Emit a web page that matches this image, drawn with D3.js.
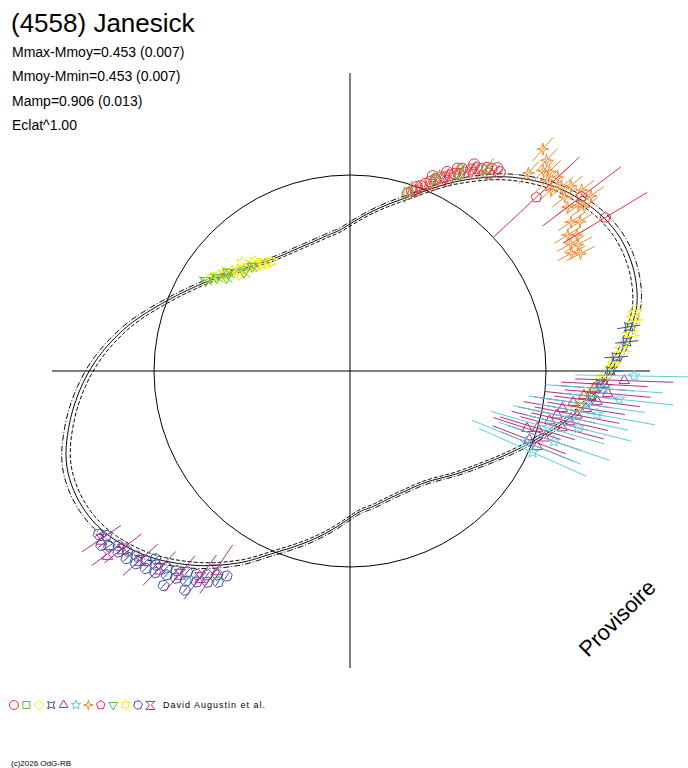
<!DOCTYPE html>
<meta charset="utf-8">
<style>
  body { margin: 0; background: #fff; }
  text { font-family: "Liberation Sans", Arial, sans-serif; }
</style>
<body></body>
<script src="https://cdn.jsdelivr.net/npm/d3@7"></script>
<script>

// model curve: angle (deg, counterclockwise from +x) -> relative radius (circle = 1)
const curveAng = [0, 8, 14, 22, 30, 40, 50, 60, 72, 90, 100, 112, 125, 137, 148, 159, 170, 180, 191, 200, 210, 220, 230, 240, 250, 270, 280, 292, 305, 318, 328, 339, 350];
const curveVal = [1.33, 1.44, 1.51, 1.54, 1.52, 1.43, 1.29, 1.12, 0.93, 0.75, 0.70, 0.68, 0.695, 0.76, 0.86, 1.0, 1.18, 1.33, 1.46, 1.53, 1.52, 1.43, 1.29, 1.13, 0.97, 0.75, 0.70, 0.675, 0.69, 0.77, 0.86, 1.0, 1.18];

// observations: [angle, value, error]
const redCircles = [[72,0.95,0.02],[71,0.97,0.02],[70,1.0,0.02],[69,1.01,0.02],[68,1.03,0.02],[67,1.05,0.02],[66,1.07,0.02],[66,1.04,0.02],[65,1.09,0.02],[64,1.1,0.02],[63,1.12,0.02],[63,1.09,0.02],[62,1.14,0.02],[61,1.15,0.02],[61,1.18,0.02],[60,1.17,0.02],[59,1.2,0.02],[58,1.22,0.02],[58,1.19,0.02],[57,1.23,0.02],[56,1.25,0.02],[55,1.26,0.02],[55,1.23,0.02],[54,1.28,0.02],[53,1.27,0.02],[64,1.13,0.02],[67,1.08,0.02],[62,1.17,0.02],[59,1.23,0.02],[70,0.98,0.02]];
const greenSquares = [[72,0.96,0.06],[66,1.07,0.06],[61,1.15,0.06],[56,1.24,0.07]];
const yellowDiamonds = [[12,1.49,0.04],[11,1.47,0.04],[10,1.48,0.04],[9,1.45,0.04],[8,1.44,0.04],[7,1.45,0.04],[6,1.41,0.04],[5,1.39,0.04],[4,1.4,0.04],[3,1.36,0.04],[2,1.35,0.04],[1,1.34,0.04],[0,1.31,0.04],[-1,1.3,0.04],[-2,1.28,0.04],[-3,1.27,0.04],[-4,1.25,0.04],[-5,1.24,0.04],[-6,1.22,0.04],[-7,1.2,0.04],[-8,1.19,0.04],[-9,1.17,0.04]];
const blueConcave = [[9,1.44,0.06],[6,1.42,0.06],[3,1.36,0.06],[0,1.33,0.06],[-3,1.28,0.06],[-6,1.24,0.06]];
const magentaTriangles = [[-2,1.4,0.25],[-3,1.3,0.22],[-4,1.25,0.2],[-5,1.32,0.22],[-6,1.2,0.2],[-7,1.27,0.22],[-8,1.15,0.2],[-9,1.22,0.2],[-10,1.1,0.2],[-11,1.18,0.22],[-12,1.08,0.2],[-13,1.15,0.2],[-14,1.05,0.2],[-15,1.12,0.22],[-17,1.0,0.2],[-18,0.95,0.18],[-19,1.05,0.2],[-21,0.98,0.2],[-22,1.03,0.2]];
const cyanStars = [[-1,1.45,0.3],[-4,1.3,0.3],[-6,1.38,0.28],[-8,1.22,0.3],[-10,1.28,0.3],[-12,1.15,0.3],[-14,1.2,0.28],[-16,1.05,0.3],[-19,1.1,0.3],[-22,0.97,0.3],[-24,1.02,0.3]];
const orangeStars = [[49,1.5,0.08],[47,1.47,0.08],[46,1.42,0.08],[45,1.44,0.08],[44,1.4,0.08],[43,1.45,0.08],[42,1.38,0.08],[41,1.43,0.08],[40,1.47,0.08],[39,1.41,0.08],[38,1.5,0.08],[37,1.39,0.08],[36,1.44,0.08],[35,1.46,0.08],[34,1.36,0.08],[33,1.4,0.08],[32,1.31,0.08],[31,1.35,0.08],[30,1.3,0.08],[29,1.33,0.08],[28,1.28,0.08],[48,1.36,0.08],[36,1.52,0.08],[27,1.32,0.08]];
const redPentagons = [[43,1.30,0.3],[37,1.48,0.25],[31,1.52,0.25]];
const greenInvTri = [[137,0.74,0.04],[141,0.8,0.04],[145,0.83,0.04],[148,0.87,0.04],[143,0.79,0.04],[133,0.73,0.04]];
const yellowHexagrams = [[126,0.69,0.03],[128,0.7,0.03],[130,0.71,0.03],[132,0.72,0.03],[134,0.74,0.03],[136,0.75,0.03],[138,0.77,0.03],[140,0.79,0.03],[142,0.81,0.03],[144,0.83,0.03],[146,0.85,0.03],[131,0.74,0.03],[139,0.75,0.03],[135,0.78,0.03]];
const blueHexagons = [[213,1.53,0.02],[214,1.5,0.02],[215,1.55,0.02],[216,1.52,0.02],[217,1.48,0.02],[218,1.5,0.02],[219,1.46,0.02],[220,1.49,0.02],[221,1.44,0.02],[222,1.47,0.02],[223,1.42,0.02],[224,1.45,0.02],[225,1.4,0.02],[226,1.43,0.02],[227,1.37,0.02],[228,1.4,0.02],[229,1.35,0.02],[230,1.38,0.02],[231,1.32,0.02],[232,1.36,0.02],[233,1.3,0.02],[234,1.33,0.02],[235,1.27,0.02],[236,1.3,0.02],[237,1.24,0.02],[238,1.27,0.02],[239,1.22,0.02],[229,1.45,0.02],[224,1.38,0.02],[233,1.4,0.02]];
const magentaTrefoils = [[214,1.53,0.12],[218,1.47,0.12],[222,1.44,0.12],[226,1.4,0.12],[230,1.35,0.12],[234,1.3,0.14],[236,1.22,0.15],[217,1.55,0.1]];

const infoLines = ["Mmax-Mmoy=0.453 (0.007)", "Mmoy-Mmin=0.453 (0.007)", "Mamp=0.906 (0.013)", "Eclat^1.00"];

const W = 688, H = 768, cx = 350, cy = 371;
const r = d3.scaleLinear().domain([0, 1]).range([0, 196]);
const rad = d => d * Math.PI / 180;
const px = (a, v) => cx + r(v) * Math.cos(rad(a));
const py = (a, v) => cy - r(v) * Math.sin(rad(a));

const svg = d3.select("body").append("svg").attr("width", W).attr("height", H);

// axes and unit circle
svg.append("line").attr("x1", 52).attr("x2", 650).attr("y1", cy).attr("y2", cy).attr("stroke", "#000");
svg.append("line").attr("x1", cx).attr("x2", cx).attr("y1", 73).attr("y2", 668).attr("stroke", "#000");
svg.append("circle").attr("cx", cx).attr("cy", cy).attr("r", r(1)).attr("fill", "none").attr("stroke", "#000");

// smooth the curve in (angle, value) space, periodic
function polarSpline(k) {
  const n = curveAng.length, out = [];
  const A = i => curveAng[(i + n) % n] + 360 * Math.floor(i / n);
  const V = i => curveVal[(i + n) % n] * k;
  const cr = (p0, p1, p2, p3, t) => 0.5 * (2 * p1 + (-p0 + p2) * t + (2 * p0 - 5 * p1 + 4 * p2 - p3) * t * t + (-p0 + 3 * p1 - 3 * p2 + p3) * t * t * t);
  for (let i = 0; i < n; i++) {
    for (let t = 0; t < 1; t += 0.05) {
      const a = cr(A(i - 1), A(i), A(i + 1), A(i + 2), t);
      const v = cr(V(i - 1), V(i), V(i + 1), V(i + 2), t);
      out.push([px(a, v), py(a, v)]);
    }
  }
  return out;
}
const line = d3.line().curve(d3.curveLinearClosed);
[[0.985, "4,2"], [1, null], [1.015, "6,2,1,2"]].forEach(([k, dash]) => {
  svg.append("path").attr("d", line(polarSpline(k))).attr("fill", "none")
    .attr("stroke", "#000").attr("stroke-width", 1).attr("stroke-dasharray", dash);
});

// shapes
function poly(n, ro, ri, rot) {
  const p = [];
  const m = ri ? n * 2 : n;
  for (let i = 0; i < m; i++) {
    const rr = ri && i % 2 ? ri : ro;
    const a = rot + i * 2 * Math.PI / m;
    p.push([rr * Math.sin(a), -rr * Math.cos(a)]);
  }
  return "M" + p.map(q => q.map(v => v.toFixed(2)).join(",")).join("L") + "Z";
}
const shapes = {
  circle: s => `M${s},0A${s},${s} 0 1 1 ${-s},0A${s},${s} 0 1 1 ${s},0Z`,
  square: s => poly(4, s * 1.1, 0, Math.PI / 4),
  diamond: s => poly(4, s * 1.1, 0, 0),
  concave: s => poly(4, s * 1.1, s * 0.5, Math.PI / 4),
  triangle: s => poly(3, s * 1.1, 0, 0),
  star5: s => poly(5, s * 1.1, s * 0.45, 0),
  star4: s => poly(4, s * 1.1, s * 0.3, 0),
  pentagon: s => poly(5, s, 0, 0),
  invtri: s => poly(3, s * 1.1, 0, Math.PI),
  hexagram: s => poly(6, s * 1.1, s * 0.6, 0),
  hexagon: s => poly(6, s, 0, 0.3),
  trefoil: s => `M${-s},${-s * 0.8}L${s},${-s * 0.8}L${s * 0.3},${-s * 0.1}L${s * 0.3},${s * 0.2}L${s},${s}L${-s},${s}L${-s * 0.3},${s * 0.2}L${-s * 0.3},${-s * 0.1}Z`
};

const series = [
  [redCircles, "circle", "#e8303a"],
  [greenSquares, "square", "#5cbf3c"],
  [yellowDiamonds, "diamond", "#f2ee1a"],
  [blueConcave, "concave", "#3452a8"],
  [magentaTriangles, "triangle", "#b02f86"],
  [cyanStars, "star5", "#5ecbe0"],
  [orangeStars, "star4", "#f28a30"],
  [redPentagons, "pentagon", "#e8303a"],
  [greenInvTri, "invtri", "#5cbf3c"],
  [yellowHexagrams, "hexagram", "#f2ee1a"],
  [blueHexagons, "hexagon", "#3452a8"],
  [magentaTrefoils, "trefoil", "#b02f86"]
];

const plot = svg.append("g");
// draw in an order similar to the reference overlap
[10, 11, 6, 7, 0, 1, 2, 3, 4, 5, 9, 8].forEach(i => {
  const [data, shape, color] = series[i];
  const g = plot.append("g").attr("stroke", color).attr("fill", "none").attr("stroke-width", 1);
  g.selectAll("line").data(data).join("line")
    .attr("x1", d => px(d[0], d[1] - d[2])).attr("y1", d => py(d[0], d[1] - d[2]))
    .attr("x2", d => px(d[0], d[1] + d[2])).attr("y2", d => py(d[0], d[1] + d[2]));
  g.selectAll("path").data(data).join("path")
    .attr("transform", d => `translate(${px(d[0], d[1])},${py(d[0], d[1])})`)
    .attr("d", shapes[shape](5.5));
});

// texts
svg.append("text").attr("x", 11).attr("y", 32).attr("font-size", 26).text("(4558) Janesick");
svg.selectAll("text.info").data(infoLines).join("text").attr("class", "info")
  .attr("x", 12).attr("y", (d, i) => 57 + i * 24.3).attr("font-size", 14).text(d => d);

svg.append("text").attr("transform", "translate(588,658) rotate(-45)")
  .attr("font-size", 22).text("Provisoire");

// legend
const leg = svg.append("g");
series.forEach(([, shape, color], i) => {
  leg.append("path").attr("transform", `translate(${14 + i * 12.4},705)`)
    .attr("d", shapes[shape](4.5)).attr("fill", "none").attr("stroke", color);
});
svg.append("text").attr("x", 163).attr("y", 708).attr("font-size", 9).attr("letter-spacing", 1).text("David Augustin et al.");
svg.append("text").attr("x", 11).attr("y", 766).attr("font-size", 8).text("(c)2026 OdG-RB");
</script>
